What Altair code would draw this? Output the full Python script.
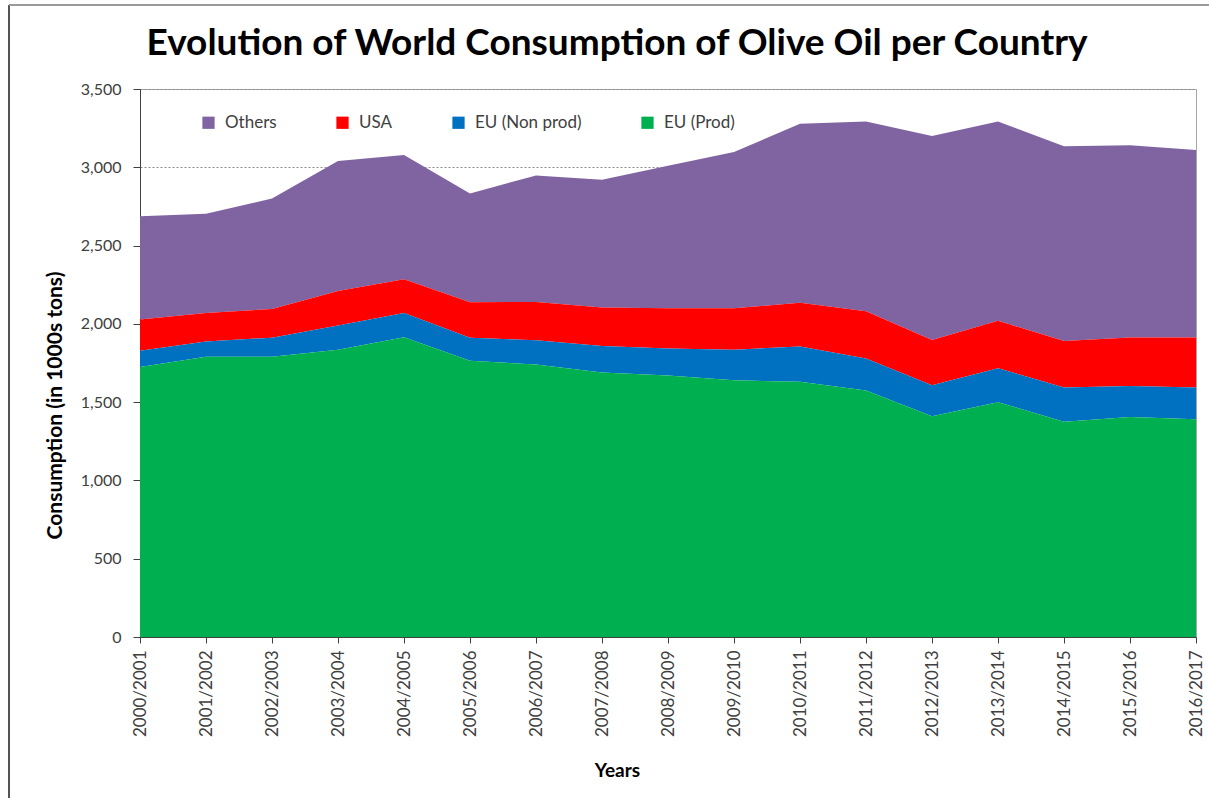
import altair as alt
import pandas as pd

# Marketing years (x categories)
years = [
    "2000/2001", "2001/2002", "2002/2003", "2003/2004", "2004/2005",
    "2005/2006", "2006/2007", "2007/2008", "2008/2009", "2009/2010",
    "2010/2011", "2011/2012", "2012/2013", "2013/2014", "2014/2015",
    "2015/2016", "2016/2017",
]

# Consumption per group, in thousands of tons
eu_prod = [1725, 1790, 1790, 1835, 1915, 1765, 1740, 1690, 1670, 1640,
           1630, 1575, 1410, 1500, 1375, 1405, 1390]
eu_non_prod = [103, 98, 122, 155, 155, 147, 155, 168, 173, 195,
               225, 203, 198, 217, 218, 198, 203]
usa = [200, 182, 183, 220, 215, 226, 245, 247, 257, 265,
       280, 302, 289, 303, 297, 310, 320]
others = [660, 634, 705, 830, 793, 695, 808, 815, 910, 998,
          1143, 1213, 1303, 1273, 1245, 1227, 1197]

series_names = ["Others", "USA", "EU (Non prod)", "EU (Prod)"]
series_colors = ["#8064A2", "#FF0000", "#0070C0", "#00B050"]
series_values = [others, usa, eu_non_prod, eu_prod]
# stacking rank: EU (Prod) sits at the bottom of the stack
stack_rank = {"EU (Prod)": 0, "EU (Non prod)": 1, "USA": 2, "Others": 3}

rows = []
for name, vals in zip(series_names, series_values):
    for yr, v in zip(years, vals):
        rows.append({"Year": yr, "Group": name, "Consumption": v,
                     "rank": stack_rank[name]})
df = pd.DataFrame(rows)

FONT = "Lato"
TEXT = "#404040"

areas = alt.Chart(df).mark_area(opacity=1).encode(
    x=alt.X(
        "Year:O",
        sort=years,
        scale=alt.Scale(type="point", padding=0),
        axis=alt.Axis(
            title="Years",
            titleFont=FONT, titleFontSize=19, titleFontWeight="bold",
            titleColor="#000000",
            titleX=477, titleY=133, titleAlign="center", titleBaseline="middle",
            labelAngle=-90, labelAlign="right", labelBaseline="middle",
            labelFont=FONT, labelFontSize=17, labelColor=TEXT, labelPadding=7,
            tickSize=6, tickColor=TEXT, domainColor=TEXT, grid=False,
        ),
    ),
    y=alt.Y(
        "Consumption:Q",
        stack="zero",
        scale=alt.Scale(domain=[0, 3500]),
        axis=alt.Axis(
            title="Consumption (in 1000s tons)",
            titleFont=FONT, titleFontSize=21, titleFontWeight="bold",
            titleColor="#000000", titleAngle=-90,
            titleX=-85, titleY=316, titleAlign="center", titleBaseline="middle",
            values=[0, 500, 1000, 1500, 2000, 2500, 3000, 3500],
            format=",.0f", labelFont=FONT, labelFontSize=16, labelColor=TEXT,
            labelPadding=12, tickSize=7, tickColor=TEXT, domainColor=TEXT,
            grid=True, gridColor="#8c8c8c", gridDash=[2, 2], gridWidth=1,
        ),
    ),
    color=alt.Color(
        "Group:N",
        scale=alt.Scale(domain=series_names, range=series_colors),
        legend=alt.Legend(
            title=None, orient="none", direction="horizontal",
            legendX=60, legendY=25, columns=4, columnPadding=57,
            symbolType="square", symbolSize=150, symbolStrokeWidth=0,
            labelFont=FONT, labelFontSize=17, labelColor=TEXT, labelOffset=8,
        ),
    ),
    order=alt.Order("rank:Q", sort="ascending"),
)

# thin frame line along the left and top edges of the figure
frame_left = alt.Chart(df).mark_rule(color="#555555", strokeWidth=1.5).encode(
    x=alt.value(-131), y=alt.value(-84), y2=alt.value(720)
)
frame_top = alt.Chart(df).mark_rule(color="#9a9a9a", strokeWidth=1.5).encode(
    x=alt.value(-131), x2=alt.value(1080), y=alt.value(-84)
)

chart = alt.layer(areas, frame_left, frame_top).properties(
    width=1056,
    height=548,
    title=alt.TitleParams(
        "Evolution of World Consumption of Olive Oil per Country",
        font=FONT, fontSize=37, fontWeight="bold", color="#000000",
        anchor="middle", dx=-51, offset=0, baseline="bottom", dy=96,
    ),
    autosize=alt.AutoSizeParams(type="none"),
    padding={"left": 140, "top": 89, "right": 13, "bottom": 161},
    background="#ffffff",
).configure_view(
    stroke="#a6a6a6", strokeWidth=1
)

chart.save("out.html", embed_options={"renderer": "svg", "actions": False})
